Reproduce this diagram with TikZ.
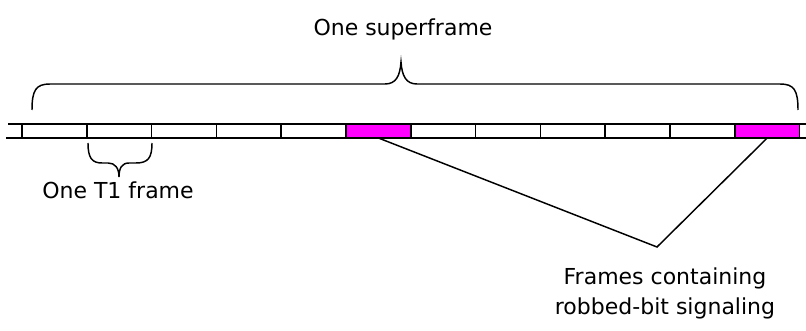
\documentclass[tikz,border=0pt]{standalone}
\usepackage{fontspec}
\setmainfont{DejaVu Sans}
\usetikzlibrary{positioning}
\definecolor{robbedpink}{RGB}{255,0,255}

\begin{document}
\begin{tikzpicture}[
    x=0.75pt, y=-0.75pt,
    line width=1.1pt,
    frame/.style={draw, minimum width=48.6pt, minimum height=10.5pt, inner sep=0pt, outer sep=0pt},
    robbed/.style={frame, fill=robbedpink},
    every node/.style={font=\fontsize{16.5}{22.5}\selectfont}
  ]
  \useasboundingbox (0,0) rectangle (806,331);

  % Rails
  \draw (8,124) -- (806,124);
  \draw (6,138) -- (806,138);

  % Frames
  \foreach \i in {1,...,12}
    \node[frame] (f\i) at ({22+64.8*(\i-0.5)},131) {};
  \node[robbed] at (f6) {};
  \node[robbed] at (f12) {};

  % Superframe brace
  \coordinate (stip) at (401,62);
  \draw (32,110) .. controls (32,90) and (36,84) .. (50,84) -- (385,84)
        .. controls (396,84) and (400,76) .. (stip)
        .. controls (402,76) and (406,84) .. (417,84) -- (780,84)
        .. controls (794,84) and (798,90) .. (798,110);
  \node (super) at (403,29) {One superframe};

  % T1 frame brace
  \coordinate (ttip) at (119,177);
  \draw (88,143) .. controls (88,158) and (92,163) .. (102,163) -- (108,163)
        .. controls (115,163) and (119,168) .. (ttip)
        .. controls (119,168) and (122,163) .. (129,163) -- (136,163)
        .. controls (148,163) and (152,158) .. (152,143);
  \node (tone) at (118,190) {One T1 frame};

  % Robbed-bit frames
  \coordinate (apex) at (657,247);
  \draw (f6.south) -- (apex) -- (f12.south);
  \node[align=center] (rbs) at (665,293) {Frames containing\\robbed-bit signaling};
\end{tikzpicture}
\end{document}
